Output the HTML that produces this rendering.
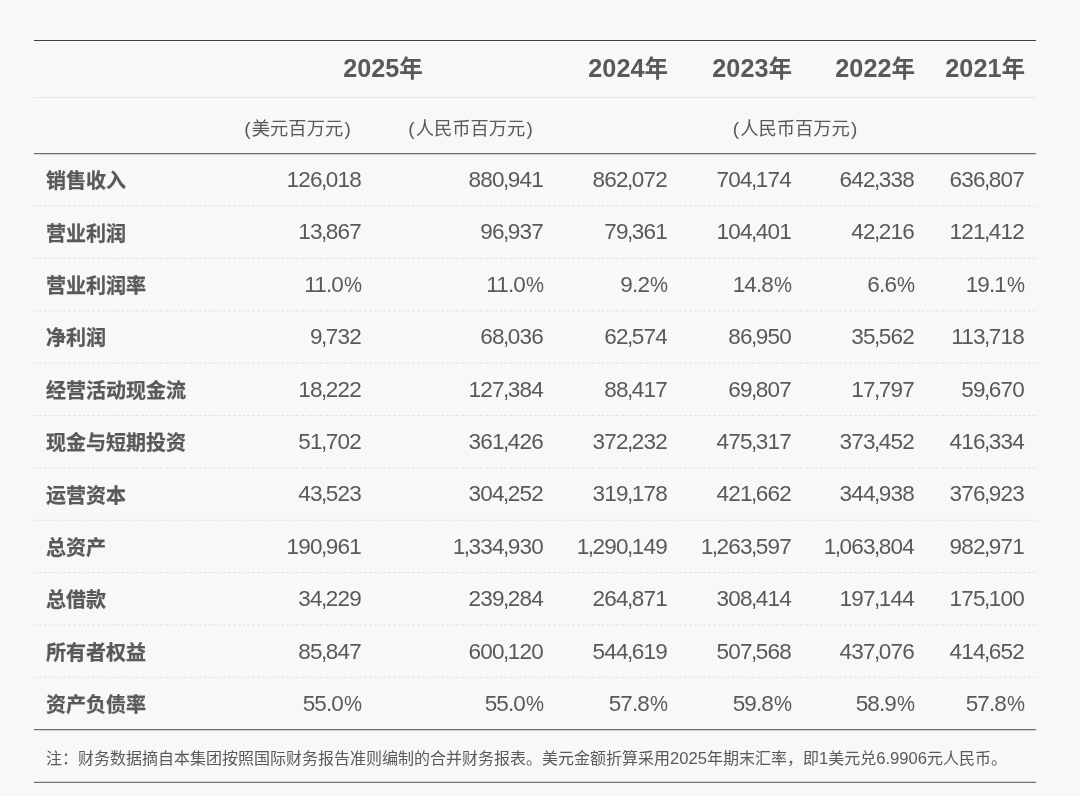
<!DOCTYPE html>
<html lang="zh-CN"><head><meta charset="utf-8"><title>五年财务概要</title>
<style>
html,body{margin:0;padding:0;}
body{width:1080px;height:796px;background:#f8f8f8;position:relative;overflow:hidden;
 font-family:"Liberation Sans","Noto Sans CJK SC",sans-serif;color:#595959;}
.ln{position:absolute;left:34px;width:1002px;height:0;}
.dark{border-top:1px solid #404040;}
.d2{height:2px;background:linear-gradient(#6c6c6c 0,#6c6c6c 1px,#d2d2d2 1px,#d2d2d2 2px);}
.d3{height:2px;background:linear-gradient(#d6d6d6 0,#d6d6d6 1px,#727272 1px,#727272 2px);}
.light{border-top:1px solid #e6e6e6;}
.dash{height:1px;background:repeating-linear-gradient(90deg,#e1e1e1 0,#e1e1e1 2.9px,transparent 2.9px,transparent 4.85px);}
.t{position:absolute;white-space:nowrap;line-height:30px;height:30px;}
.yr{font-size:23.6px;font-weight:bold;}
.yr b{font-size:25.2px;}
.unit{font-size:18.3px;}
.unit i{font-style:normal;font-size:19px;margin:0 1.2px;}
.lab{font-size:20px;font-weight:bold;left:46px;-webkit-text-stroke:0.25px #595959;}
.num{font-size:22.5px;letter-spacing:-0.85px;text-align:right;}
.num u{text-decoration:none;margin:0 -0.6px;}
.num s{text-decoration:none;display:inline-block;transform:scaleX(0.9);transform-origin:right center;margin-left:-1.4px;}
.note{font-size:16px;left:46px;}
.note i{font-style:normal;font-size:16.6px;}
</style></head><body>

<div class="ln dark" style="top:40px"></div>
<div class="ln light" style="top:97px"></div>
<div class="ln d2" style="top:153px"></div>
<div class="ln dash" style="top:205px;opacity:0.44"></div>
<div class="ln dash" style="top:206px;opacity:0.56"></div>
<div class="ln dash" style="top:257px;opacity:0.07"></div>
<div class="ln dash" style="top:258px;opacity:0.93"></div>
<div class="ln dash" style="top:310px;opacity:0.71"></div>
<div class="ln dash" style="top:311px;opacity:0.29"></div>
<div class="ln dash" style="top:362px;opacity:0.35"></div>
<div class="ln dash" style="top:363px;opacity:0.65"></div>
<div class="ln dash" style="top:415px;opacity:0.98"></div>
<div class="ln dash" style="top:467px;opacity:0.62"></div>
<div class="ln dash" style="top:468px;opacity:0.38"></div>
<div class="ln dash" style="top:519px;opacity:0.25"></div>
<div class="ln dash" style="top:520px;opacity:0.75"></div>
<div class="ln dash" style="top:572px;opacity:0.89"></div>
<div class="ln dash" style="top:573px;opacity:0.11"></div>
<div class="ln dash" style="top:624px;opacity:0.53"></div>
<div class="ln dash" style="top:625px;opacity:0.47"></div>
<div class="ln dash" style="top:676px;opacity:0.16"></div>
<div class="ln dash" style="top:677px;opacity:0.84"></div>
<div class="ln d2" style="top:729px"></div>
<div class="ln d3" style="top:781px"></div>
<div class="t yr" style="top:53.3px;left:283px;width:200px;text-align:center"><b>2025</b>年</div>
<div class="t yr" style="top:53.3px;right:412px"><b>2024</b>年</div>
<div class="t yr" style="top:53.3px;right:288px"><b>2023</b>年</div>
<div class="t yr" style="top:53.3px;right:165px"><b>2022</b>年</div>
<div class="t yr" style="top:53.3px;right:55px"><b>2021</b>年</div>
<div class="t unit" style="top:114px;left:197.5px;width:200px;text-align:center"><i>(</i>美元百万元<i>)</i></div>
<div class="t unit" style="top:114px;left:370.5px;width:200px;text-align:center"><i>(</i>人民币百万元<i>)</i></div>
<div class="t unit" style="top:114px;left:695px;width:200px;text-align:center"><i>(</i>人民币百万元<i>)</i></div>
<div class="t lab" style="top:166.1px">销售收入</div>
<div class="t num" style="top:165.0px;right:719.2px">126<u>,</u>018</div>
<div class="t num" style="top:165.0px;right:537.2px">880<u>,</u>941</div>
<div class="t num" style="top:165.0px;right:413.2px">862<u>,</u>072</div>
<div class="t num" style="top:165.0px;right:289.2px">704<u>,</u>174</div>
<div class="t num" style="top:165.0px;right:166.2px">642<u>,</u>338</div>
<div class="t num" style="top:165.0px;right:56.2px">636<u>,</u>807</div>
<div class="t lab" style="top:218.5px">营业利润</div>
<div class="t num" style="top:217.4px;right:719.2px">13<u>,</u>867</div>
<div class="t num" style="top:217.4px;right:537.2px">96<u>,</u>937</div>
<div class="t num" style="top:217.4px;right:413.2px">79<u>,</u>361</div>
<div class="t num" style="top:217.4px;right:289.2px">104<u>,</u>401</div>
<div class="t num" style="top:217.4px;right:166.2px">42<u>,</u>216</div>
<div class="t num" style="top:217.4px;right:56.2px">121<u>,</u>412</div>
<div class="t lab" style="top:270.9px">营业利润率</div>
<div class="t num" style="top:269.8px;right:719.2px">11.0<s>%</s></div>
<div class="t num" style="top:269.8px;right:537.2px">11.0<s>%</s></div>
<div class="t num" style="top:269.8px;right:413.2px">9.2<s>%</s></div>
<div class="t num" style="top:269.8px;right:289.2px">14.8<s>%</s></div>
<div class="t num" style="top:269.8px;right:166.2px">6.6<s>%</s></div>
<div class="t num" style="top:269.8px;right:56.2px">19.1<s>%</s></div>
<div class="t lab" style="top:323.3px">净利润</div>
<div class="t num" style="top:322.2px;right:719.2px">9<u>,</u>732</div>
<div class="t num" style="top:322.2px;right:537.2px">68<u>,</u>036</div>
<div class="t num" style="top:322.2px;right:413.2px">62<u>,</u>574</div>
<div class="t num" style="top:322.2px;right:289.2px">86<u>,</u>950</div>
<div class="t num" style="top:322.2px;right:166.2px">35<u>,</u>562</div>
<div class="t num" style="top:322.2px;right:56.2px">113<u>,</u>718</div>
<div class="t lab" style="top:375.7px">经营活动现金流</div>
<div class="t num" style="top:374.6px;right:719.2px">18<u>,</u>222</div>
<div class="t num" style="top:374.6px;right:537.2px">127<u>,</u>384</div>
<div class="t num" style="top:374.6px;right:413.2px">88<u>,</u>417</div>
<div class="t num" style="top:374.6px;right:289.2px">69<u>,</u>807</div>
<div class="t num" style="top:374.6px;right:166.2px">17<u>,</u>797</div>
<div class="t num" style="top:374.6px;right:56.2px">59<u>,</u>670</div>
<div class="t lab" style="top:428.1px">现金与短期投资</div>
<div class="t num" style="top:427.0px;right:719.2px">51<u>,</u>702</div>
<div class="t num" style="top:427.0px;right:537.2px">361<u>,</u>426</div>
<div class="t num" style="top:427.0px;right:413.2px">372<u>,</u>232</div>
<div class="t num" style="top:427.0px;right:289.2px">475<u>,</u>317</div>
<div class="t num" style="top:427.0px;right:166.2px">373<u>,</u>452</div>
<div class="t num" style="top:427.0px;right:56.2px">416<u>,</u>334</div>
<div class="t lab" style="top:480.5px">运营资本</div>
<div class="t num" style="top:479.4px;right:719.2px">43<u>,</u>523</div>
<div class="t num" style="top:479.4px;right:537.2px">304<u>,</u>252</div>
<div class="t num" style="top:479.4px;right:413.2px">319<u>,</u>178</div>
<div class="t num" style="top:479.4px;right:289.2px">421<u>,</u>662</div>
<div class="t num" style="top:479.4px;right:166.2px">344<u>,</u>938</div>
<div class="t num" style="top:479.4px;right:56.2px">376<u>,</u>923</div>
<div class="t lab" style="top:532.9px">总资产</div>
<div class="t num" style="top:531.8px;right:719.2px">190<u>,</u>961</div>
<div class="t num" style="top:531.8px;right:537.2px">1<u>,</u>334<u>,</u>930</div>
<div class="t num" style="top:531.8px;right:413.2px">1<u>,</u>290<u>,</u>149</div>
<div class="t num" style="top:531.8px;right:289.2px">1<u>,</u>263<u>,</u>597</div>
<div class="t num" style="top:531.8px;right:166.2px">1<u>,</u>063<u>,</u>804</div>
<div class="t num" style="top:531.8px;right:56.2px">982<u>,</u>971</div>
<div class="t lab" style="top:585.3px">总借款</div>
<div class="t num" style="top:584.2px;right:719.2px">34<u>,</u>229</div>
<div class="t num" style="top:584.2px;right:537.2px">239<u>,</u>284</div>
<div class="t num" style="top:584.2px;right:413.2px">264<u>,</u>871</div>
<div class="t num" style="top:584.2px;right:289.2px">308<u>,</u>414</div>
<div class="t num" style="top:584.2px;right:166.2px">197<u>,</u>144</div>
<div class="t num" style="top:584.2px;right:56.2px">175<u>,</u>100</div>
<div class="t lab" style="top:637.7px">所有者权益</div>
<div class="t num" style="top:636.6px;right:719.2px">85<u>,</u>847</div>
<div class="t num" style="top:636.6px;right:537.2px">600<u>,</u>120</div>
<div class="t num" style="top:636.6px;right:413.2px">544<u>,</u>619</div>
<div class="t num" style="top:636.6px;right:289.2px">507<u>,</u>568</div>
<div class="t num" style="top:636.6px;right:166.2px">437<u>,</u>076</div>
<div class="t num" style="top:636.6px;right:56.2px">414<u>,</u>652</div>
<div class="t lab" style="top:690.1px">资产负债率</div>
<div class="t num" style="top:689.0px;right:719.2px">55.0<s>%</s></div>
<div class="t num" style="top:689.0px;right:537.2px">55.0<s>%</s></div>
<div class="t num" style="top:689.0px;right:413.2px">57.8<s>%</s></div>
<div class="t num" style="top:689.0px;right:289.2px">59.8<s>%</s></div>
<div class="t num" style="top:689.0px;right:166.2px">58.9<s>%</s></div>
<div class="t num" style="top:689.0px;right:56.2px">57.8<s>%</s></div>
<div class="t note" style="top:743.5px">注：财务数据摘自本集团按照国际财务报告准则编制的合并财务报表。美元金额折算采用<i>2025</i>年期末汇率，即<i>1</i>美元兑<i>6.9906</i>元人民币。</div>
</body></html>
